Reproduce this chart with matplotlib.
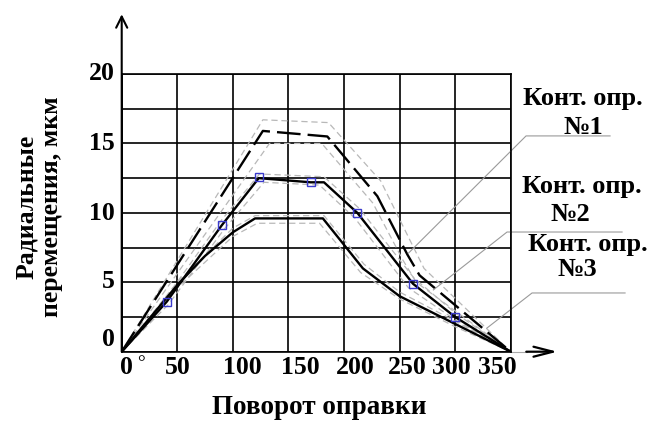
import numpy as np
import matplotlib
matplotlib.use("Agg")
import matplotlib.pyplot as plt

# %%
# curve 1 - long dashed (Конт. опр. №1)
x1 = [0, 127, 185, 230, 257, 268, 350]
y1 = [0, 15.9, 15.5, 11.2, 7.0, 5.5, 0]
x1_up = [0, 127, 186, 233, 262, 272, 350]
y1_up = [0, 16.7, 16.5, 12.3, 7.6, 6.0, 0]
x1_lo = [0, 133, 180, 226, 253, 265, 350]
y1_lo = [0, 15.0, 15.0, 10.7, 6.6, 5.0, 0]

# curve 2 - solid with squares (Конт. опр. №2)
x2 = [0, 40.5, 90, 123.3, 170, 182, 212, 262, 300, 350]
y2 = [0, 3.6, 9.1, 12.5, 12.2, 12.2, 10.0, 4.9, 2.5, 0]
x2_m = [40.5, 90, 123.3, 170, 212, 262, 300]
y2_m = [3.6, 9.1, 12.6, 12.2, 10.0, 4.9, 2.5]
x2_up = [0, 40, 90, 124, 182, 214, 263, 300, 350]
y2_up = [0, 3.9, 9.5, 12.8, 12.6, 10.3, 5.3, 2.8, 0]
x2_lo = [0, 42, 92, 128, 178, 210, 258, 300, 350]
y2_lo = [0, 3.4, 8.8, 12.2, 12.0, 9.6, 4.6, 2.3, 0]

# curve 3 - solid (Конт. опр. №3)
x3 = [0, 50, 75, 100, 120, 181, 217, 250, 300, 350]
y3 = [0, 4.8, 6.9, 8.6, 9.6, 9.6, 6.0, 4.0, 2.0, 0]
x3_up = [0, 50, 100, 120, 182, 218, 250, 300, 350]
y3_up = [0, 5.0, 8.9, 9.8, 9.8, 6.3, 4.3, 2.2, 0]
x3_lo = [0, 50, 100, 122, 178, 215, 250, 300, 350]
y3_lo = [0, 4.6, 8.3, 9.25, 9.25, 5.7, 3.8, 1.8, 0]

xticks = [0, 50, 100, 150, 200, 250, 300, 350]
yticks = [0, 5, 10, 15, 20]

# %%
plt.rcParams['font.family'] = ['Liberation Serif', 'DejaVu Serif']
plt.rcParams['font.weight'] = 'bold'

fig = plt.figure(figsize=(6.54, 4.24), dpi=100)
ax = fig.add_axes([0.1861, 0.1705, 0.5948, 0.655])
ax.set_xlim(0, 350)
ax.set_ylim(0, 20)
ax.set_xticks(np.arange(0, 351, 50))
ax.set_yticks(np.arange(0, 20.1, 2.5))
ax.tick_params(length=0, labelbottom=False, labelleft=False)
ax.grid(True, color='black', lw=1.2)
for s in ax.spines.values():
    s.set_linewidth(1.2)

band = dict(color='#b8b8b8', lw=0.9, ls=(0, (5, 3)))
for xa, ya in [(x1_up, y1_up), (x1_lo, y1_lo), (x2_up, y2_up),
               (x2_lo, y2_lo), (x3_up, y3_up), (x3_lo, y3_lo)]:
    ax.plot(xa, ya, **band)

ax.plot(x1, y1, color='black', lw=1.7, ls=(0, (10, 3)))
ax.plot(x2, y2, color='black', lw=1.7)
ax.plot(x3, y3, color='black', lw=1.7)
ax.plot(x2_m, y2_m, ls='none', marker='s', ms=5.5, mfc='none', mec='#3a3acc', mew=1.0)

# axis arrows
ax.annotate('', xy=(0, 24.3), xytext=(0, 0), annotation_clip=False,
            arrowprops=dict(arrowstyle='->, head_length=0.4, head_width=0.2', lw=1.5,
                            color='black', mutation_scale=20, shrinkA=0, shrinkB=0))
ax.plot([350, 365], [0, 0], color='#aaaaaa', lw=0.8, clip_on=False)
ax.annotate('', xy=(392, 0), xytext=(364, 0), annotation_clip=False,
            arrowprops=dict(arrowstyle='->, head_length=0.7, head_width=0.18', lw=1.6,
                            color='black', mutation_scale=20, shrinkA=0, shrinkB=0))

# leader lines
lead = dict(color='#9a9a9a', lw=0.8, clip_on=False)
ax.plot([439.4, 363.8, 257.9], [15.54, 15.54, 7.09], **lead)
ax.plot([450.2, 346.7, 280.4], [8.62, 8.62, 4.45], **lead)
ax.plot([452.9, 369.2, 328.4], [4.23, 4.23, 1.69], **lead)

W, H = 654.0, 424.0
def ft(px, py, s, **kw):
    fig.text(px / W, 1 - py / H, s, **kw)

# tick labels (placed like the original drawing)
xlab_px = [126, 178, 242, 300, 355, 407, 451, 497]
for px, t in zip(xlab_px, xticks):
    ft(px, 367, str(t), ha='center', va='center', fontsize=18.5, fontweight='bold')
ylab_py = [340, 282, 213, 143, 74]
for py, t in zip(ylab_py, yticks):
    ft(115, py, str(t), ha='right', va='center', fontsize=18.5, fontweight='bold')
ft(141, 364, '°', ha='center', va='center', fontsize=14, fontweight='normal')

# legend labels
lf = dict(ha='center', va='center', fontsize=19, fontweight='bold')
ft(583, 98, "Конт. опр.", **lf)
ft(583, 127, "№1", **lf)
ft(582, 187, "Конт. опр.", **lf)
ft(570, 214, "№2", **lf)
ft(588, 244, "Конт. опр.", **lf)
ft(577, 270, "№3", **lf)

# axis titles
ft(39, 207, "Радиальные\nперемещения, мкм", ha='center', va='center', rotation=90,
   ma='center', fontsize=18.5, fontweight='bold', linespacing=1.1)
ft(319, 408, "Поворот оправки", ha='center', va='center', fontsize=19.5, fontweight='bold')

fig.savefig("out.png", dpi=100)
